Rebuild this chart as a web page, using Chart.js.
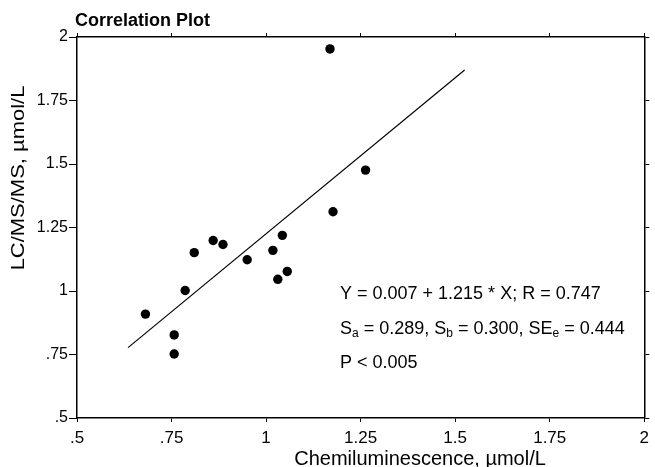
<!DOCTYPE html>
<html>
<head>
<meta charset="utf-8">
<script src="https://cdn.jsdelivr.net/npm/chart.js@4"></script>
<style>
html,body{margin:0;padding:0;background:#fff;}
#c{display:block;}
</style>
</head>
<body>
<canvas id="c" width="655" height="467"></canvas>
<script>
// ---- data ----
const xValues = [0.681,0.757,0.757,0.786,0.810,0.860,0.886,0.950,1.018,1.043,1.031,1.056,1.169,1.177,1.263];
const yValues = [0.909,0.827,0.752,1.002,1.151,1.199,1.183,1.123,1.160,1.219,1.046,1.077,1.953,1.312,1.476];
const fitX = [0.635, 1.525];
const fitY = [0.777, 1.870];
const xTickLabels = ['.5','.75','1','1.25','1.5','1.75','2'];
const yTickLabels = ['.5','.75','1','1.25','1.5','1.75','2'];
const titleText = 'Correlation Plot';
const xTitle = 'Chemiluminescence, \u00B5mol/L';
const yTitle = 'LC/MS/MS, \u00B5mol/L';
const statLines = [
  [['Y = 0.007 + 1.215 * X; R = 0.747','n']],
  [['S','n'],['a','s'],[' = 0.289, S','n'],['b','s'],[' = 0.300, SE','n'],['e','s'],[' = 0.444','n']],
  [['P < 0.005','n']]
];

const FONT = "'Liberation Sans', Arial, Helvetica, sans-serif";
Chart.defaults.font.family = FONT;
Chart.defaults.color = '#000';

const scatterPts = xValues.map((x,i)=>({x:x,y:yValues[i]}));
const fitPts = fitX.map((x,i)=>({x:x,y:fitY[i]}));

const textPlugin = {
  id:'texts',
  afterDraw(chart){
    const ctx = chart.ctx;
    const a = chart.chartArea;
    ctx.save();
    ctx.fillStyle = '#000';
    // title
    ctx.font = "bold 18px " + FONT;
    ctx.textAlign = 'left';
    ctx.textBaseline = 'middle';
    ctx.fillText(titleText, a.left - 2, 21);
    // x title
    ctx.font = "20px " + FONT;
    ctx.textAlign = 'center';
    ctx.fillText(xTitle, 420, 459);
    // y title (stretched along its length)
    ctx.save();
    ctx.translate(19, 178);
    ctx.rotate(-Math.PI/2);
    ctx.scale(1.22, 1);
    ctx.font = "18px " + FONT;
    ctx.fillText(yTitle, 0, 0);
    ctx.restore();
    // stats text
    ctx.textAlign = 'left';
    ctx.textBaseline = 'alphabetic';
    const baselines = [299, 334, 368];
    statLines.forEach((parts, li) => {
      let x = 340;
      parts.forEach(([t, kind]) => {
        if (kind === 's') {
          ctx.font = "12px " + FONT;
          ctx.fillText(t, x, baselines[li] + 3);
        } else {
          ctx.font = "18px " + FONT;
          ctx.fillText(t, x, baselines[li]);
        }
        x += ctx.measureText(t).width;
      });
    });
    ctx.restore();
  }
};

new Chart(document.getElementById('c'), {
  data: {
    datasets: [
      {
        type:'scatter',
        data: scatterPts,
        backgroundColor:'#000',
        borderColor:'#000',
        pointRadius:4.7,
        pointHoverRadius:4.7,
        borderWidth:0
      },
      {
        type:'line',
        data: fitPts,
        borderColor:'#000',
        borderWidth:1.2,
        pointRadius:0,
        fill:false,
        tension:0
      }
    ]
  },
  options: {
    responsive:false,
    animation:false,
    devicePixelRatio:1,
    layout:{padding:0},
    plugins:{legend:{display:false}, tooltip:{enabled:false}, title:{display:false}},
    scales:{
      x:{
        type:'linear', position:'bottom', min:0.5, max:2,
        afterBuildTicks(s){ s.ticks = xTickLabels.map((l,i)=>({value:0.5+0.25*i})); },
        ticks:{ font:{size:17}, color:'#000', padding:6, maxRotation:0, autoSkip:false,
          callback:(v,i)=>xTickLabels[i] },
        grid:{ drawOnChartArea:false, tickLength:4, color:'#000', tickWidth:1 },
        border:{ color:'#000', width:1.5 },
        afterFit(s){ s.height = 49; }
      },
      x2:{
        type:'linear', position:'top', min:0.5, max:2,
        afterBuildTicks(s){ s.ticks = xTickLabels.map((l,i)=>({value:0.5+0.25*i})); },
        ticks:{ display:false },
        grid:{ drawOnChartArea:false, tickLength:4, color:'#000', tickWidth:1 },
        border:{ color:'#000', width:1.5 },
        afterFit(s){ s.height = 37; }
      },
      y:{
        type:'linear', position:'left', min:0.5, max:2,
        afterBuildTicks(s){ s.ticks = yTickLabels.map((l,i)=>({value:0.5+0.25*i})); },
        ticks:{ font:{size:16}, color:'#000', padding:1, autoSkip:false,
          callback:(v,i)=>yTickLabels[i] },
        grid:{ drawOnChartArea:false, tickLength:8, color:'#000', tickWidth:1 },
        border:{ color:'#000', width:1.5 },
        afterFit(s){ s.width = 77; }
      },
      y2:{
        type:'linear', position:'right', min:0.5, max:2,
        afterBuildTicks(s){ s.ticks = yTickLabels.map((l,i)=>({value:0.5+0.25*i})); },
        ticks:{ display:false },
        grid:{ drawOnChartArea:false, tickLength:5, color:'#000', tickWidth:1 },
        border:{ color:'#000', width:1.5 },
        afterFit(s){ s.width = 6.5; }
      }
    }
  },
  plugins:[textPlugin]
});
</script>
</body>
</html>
